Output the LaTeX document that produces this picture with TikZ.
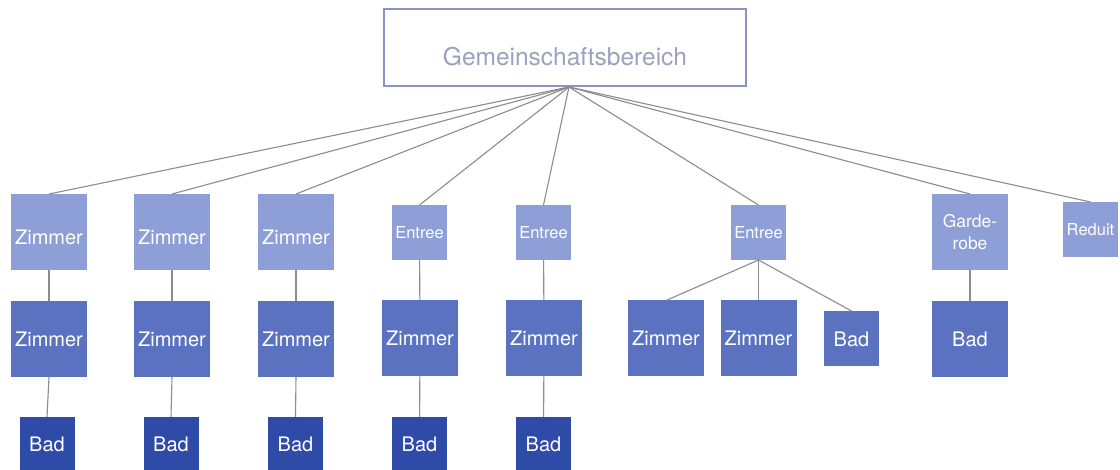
\documentclass[tikz,border=0pt]{standalone}
\usepackage{fontspec}
\setmainfont{TeX Gyre Heros}
\definecolor{lightblue}{HTML}{8E9ED6}
\definecolor{midblue}{HTML}{5A72C0}
\definecolor{darkblue}{HTML}{2F4BA8}
\definecolor{topborder}{HTML}{8A93C4}
\definecolor{toptext}{HTML}{9AA2C0}
\definecolor{linegray}{HTML}{8C8C8C}
\begin{document}
\begin{tikzpicture}[x=1pt,y=-1pt,
  box/.style={rectangle,inner sep=0pt,outer sep=0pt,text=white,align=center},
  lvlone/.style={box,fill=lightblue,minimum width=76pt,minimum height=76pt,font=\fontsize{20}{22}\selectfont,text height=25pt,text depth=0pt},
  lvlsmall/.style={box,fill=lightblue,minimum width=55pt,minimum height=55pt,font=\fontsize{16.5}{18}\selectfont},
  lvltwo/.style={box,fill=midblue,minimum width=76pt,minimum height=76pt,font=\fontsize{20}{22}\selectfont},
  bad/.style={box,fill=darkblue,minimum width=55pt,minimum height=54pt,font=\fontsize{20}{22}\selectfont,text height=16pt,text depth=0pt},
  link/.style={draw=linegray,line width=1.1pt}]
\useasboundingbox (0,0) rectangle (1120,470);
\fill[white] (0,0) rectangle (1120,470);
% top
\node[draw=topborder,line width=1.3pt,minimum width=362pt,minimum height=77pt,inner sep=0pt] (top) at (565,47.5) {};
\node[text=toptext,font=\fontsize{24.5}{26}\selectfont,inner sep=0pt] (toplabel) at (565,57) {Gemeinschaftsbereich};
\coordinate (hub) at (569,87);
% row 1
\node[lvlone] (z1) at (49,232) {Zimmer};
\node[lvlone] (z2) at (172,232) {Zimmer};
\node[lvlone] (z3) at (296,232) {Zimmer};
\node[lvlsmall] (e1) at (419.5,232.5) {Entree};
\node[lvlsmall] (e2) at (543.5,232.5) {Entree};
\node[lvlsmall] (e3) at (758.5,232.5) {Entree};
\node[box,fill=lightblue,minimum width=76pt,minimum height=76pt,font=\fontsize{17.5}{22}\selectfont] (gd) at (970,232) {Garde-\\robe};
\node[lvlsmall] (rd) at (1090.5,229.5) {Reduit};
% row 2
\node[lvltwo] (zz1) at (49,339) {Zimmer};
\node[lvltwo] (zz2) at (172,339) {Zimmer};
\node[lvltwo] (zz3) at (296,339) {Zimmer};
\node[lvltwo] (zz4) at (420,338) {Zimmer};
\node[lvltwo] (zz5) at (544,338) {Zimmer};
\node[lvltwo] (zz6) at (666,338.5) {Zimmer};
\node[lvltwo] (zz7) at (758.5,338.5) {Zimmer};
\node[bad,fill=midblue,minimum height=55pt] (b6) at (851.5,338.5) {Bad};
\node[lvltwo] (b7) at (970,339) {Bad};
% row 3
\node[bad] (b1) at (47,444) {Bad};
\node[bad] (b2) at (171,444) {Bad};
\node[bad] (b3) at (295.5,444) {Bad};
\node[bad] (b4) at (419.5,444) {Bad};
\node[bad] (b5) at (543.5,444) {Bad};
% links from top
\foreach \n in {z1,z2,z3,e1,e2,e3,gd,rd}
  \draw[link] (hub) -- (\n.north);
% vertical links
\draw[link] (z1) -- (zz1); \draw[link] (zz1.south) -- (b1.north);
\draw[link] (z2) -- (zz2); \draw[link] (zz2.south) -- (b2.north);
\draw[link] (z3) -- (zz3); \draw[link] (zz3.south) -- (b3.north);
\draw[link] (e1) -- (zz4); \draw[link] (zz4) -- (b4);
\draw[link] (e2) -- (zz5); \draw[link] (zz5) -- (b5);
\draw[link] (e3.south) -- (zz6.north);
\draw[link] (e3.south) -- (zz7.north);
\draw[link] (e3.south) -- (b6.north);
\draw[link] (gd) -- (b7);
\end{tikzpicture}
\end{document}
